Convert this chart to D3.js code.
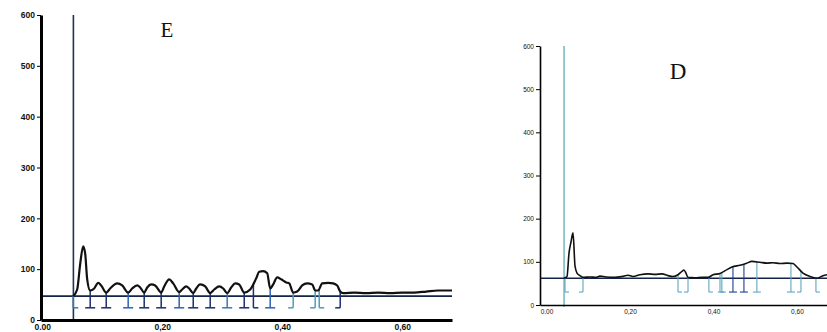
<!DOCTYPE html>
<html>
<head>
<meta charset="utf-8">
<script src="https://cdn.jsdelivr.net/npm/d3@7"></script>
<style>
  body { margin: 0; background: #fff; }
  svg { display: block; }
</style>
</head>
<body>
<svg id="chart" width="827" height="332"></svg>
<script>
// ---- shared axis values ----
const yTicks = [0, 100, 200, 300, 400, 500, 600];
const xTicks = [0, 0.2, 0.4, 0.6];
const xTickLabels = ['0.00', '0,20', '0,40', '0,60'];

// ---- panel E ----
const eTime = [0.0517, 0.0583, 0.0633, 0.0683, 0.0717, 0.075, 0.08, 0.0867, 0.0933, 0.0983,
  0.1067, 0.1133, 0.125, 0.1333, 0.1433, 0.15, 0.1583, 0.1633, 0.17, 0.175,
  0.1817, 0.1883, 0.1983, 0.2033, 0.2117, 0.2183, 0.2283, 0.2333, 0.24, 0.245,
  0.2517, 0.2567, 0.2633, 0.2717, 0.28, 0.2867, 0.295, 0.3017, 0.3083, 0.315,
  0.3217, 0.3283, 0.3367, 0.3467, 0.3567, 0.3617, 0.3683, 0.375, 0.38, 0.385,
  0.3917, 0.3983, 0.4067, 0.4117, 0.4183, 0.425, 0.4333, 0.4417, 0.45, 0.455,
  0.46, 0.4667, 0.4767, 0.485, 0.4917, 0.4967, 0.5017, 0.52, 0.54, 0.56,
  0.58, 0.6, 0.62, 0.64, 0.66, 0.683];
const eSignal = [47, 60, 110, 145, 130, 80, 58, 62, 73, 68,
  54, 62, 72, 68, 54, 62, 68, 64, 54, 64,
  70, 68, 54, 66, 80, 72, 55, 60, 66, 62,
  53, 62, 70, 66, 53, 60, 66, 62, 53, 64,
  72, 70, 54, 60, 82, 95, 96, 92, 62, 70,
  84, 80, 74, 72, 54, 56, 68, 72, 70, 58,
  58, 72, 73, 72, 68, 56, 53, 54, 53, 54,
  53, 54, 54, 56, 58, 58];
const eBaseline = 47;
const eVoid = 0.052;
const eMarks = [0.0517, 0.08, 0.1067, 0.1433, 0.17, 0.1983, 0.2283, 0.2517, 0.28, 0.3083,
  0.3367, 0.352, 0.38, 0.4183, 0.455, 0.4617, 0.4967];
const eMarkSide = [1, 0, 0, 0, 0, 0, 0, 0, 0, 0, 0, 1, 0, -1, -1, 1, -1];
const eFoot = 24;

// ---- panel D ----
const dTime = [0.0419, 0.0491, 0.0539, 0.0587, 0.0635, 0.0683, 0.0731, 0.0802, 0.0874, 0.104,
  0.1186, 0.128, 0.1425, 0.164, 0.1808, 0.1952, 0.2072, 0.224, 0.2431, 0.2599,
  0.2766, 0.291, 0.303, 0.315, 0.3246, 0.3293, 0.3341, 0.3389, 0.3557, 0.3725,
  0.3868, 0.3988, 0.4156, 0.4323, 0.4443, 0.4635, 0.4778, 0.4922, 0.5114, 0.5281,
  0.5425, 0.5593, 0.576, 0.5904, 0.6, 0.6144, 0.6311, 0.6479, 0.6623, 0.6719];
const dSignal = [62, 66, 120, 146, 167, 90, 74, 68, 64, 65,
  64, 67, 65, 64, 66, 69, 66, 70, 72, 71,
  72, 68, 66, 70, 78, 81, 74, 64, 63, 64,
  64, 70, 73, 82, 88, 92, 96, 101, 99, 97,
  98, 96, 97, 96, 88, 74, 66, 62, 68, 70];
const dBaseline = 62;
const dVoid = 0.042;
const dMarks = [0.0443, 0.0874, 0.315, 0.339, 0.389, 0.4156, 0.42, 0.4467, 0.473, 0.504,
  0.5856, 0.6096, 0.6455];
const dMarkSide = [1, -1, 1, -1, 1, 1, 0, 0, 0, 0, 0, -1, 1];
const dFoot = 30;

const svg = d3.select('#chart');

function drawPanel(p) {
  const x = d3.scaleLinear().domain(p.xDomain).range(p.xRange);
  const y = d3.scaleLinear().domain([0, 600]).range(p.yRange);
  const g = svg.append('g');
  const signalAt = d3.scaleLinear().domain(p.time).range(p.signal);

  // void marker line
  g.append('line')
    .attr('x1', x(p.voidT)).attr('x2', x(p.voidT))
    .attr('y1', y(600)).attr('y2', y(0) + 2)
    .attr('stroke', p.voidColor).attr('stroke-width', p.voidWidth);

  // baseline
  g.append('line')
    .attr('x1', p.xRange[0]).attr('x2', p.xRange[1])
    .attr('y1', y(p.baseline)).attr('y2', y(p.baseline))
    .attr('stroke', '#142447').attr('stroke-width', p.baseWidth);

  // integration marks
  p.marks.forEach((m, i) => {
    const c = p.markColor(i);
    const top = y(Math.max(signalAt(m), p.baseline));
    const bot = y(p.foot);
    const xm = x(m);
    g.append('line').attr('x1', xm).attr('x2', xm).attr('y1', top).attr('y2', bot)
      .attr('stroke', c).attr('stroke-width', p.markWidth);
    const s = p.sides[i];
    const x0 = s === 1 ? xm : xm - p.footLen;
    const x1 = s === -1 ? xm : xm + p.footLen;
    g.append('line').attr('x1', x0).attr('x2', x1).attr('y1', bot).attr('y2', bot)
      .attr('stroke', c).attr('stroke-width', p.markWidth);
  });

  // signal
  const line = d3.line()
    .x((d, i) => x(p.time[i]))
    .y(d => y(d))
    .curve(d3.curveMonotoneX);
  g.append('path').datum(p.signal)
    .attr('d', line)
    .attr('fill', 'none')
    .attr('stroke', '#111')
    .attr('stroke-width', p.lineWidth)
    .attr('stroke-linejoin', 'round');

  // y axis
  const yAxis = d3.axisLeft(y).tickValues(yTicks).tickSize(4).tickSizeOuter(0).tickPadding(2);
  const ya = g.append('g')
    .attr('transform', 'translate(' + p.xRange[0] + ',0)')
    .call(yAxis);
  ya.select('.domain').attr('stroke', '#000').attr('stroke-width', p.axisWidth);
  ya.selectAll('.tick line').attr('stroke', '#000').attr('stroke-width', 1);
  ya.selectAll('.tick text')
    .attr('font-family', 'Liberation Sans, Arial, sans-serif')
    .attr('font-size', p.tickFont).attr('font-weight', p.tickWeight).attr('fill', '#111');

  // x axis
  const xAxis = d3.axisBottom(x).tickValues(xTicks).tickSize(0).tickSizeOuter(0)
    .tickPadding(p.xPad).tickFormat((d, i) => xTickLabels[i]);
  const xa = g.append('g')
    .attr('transform', 'translate(0,' + p.yRange[0] + ')')
    .call(xAxis);
  xa.select('.domain').attr('stroke', '#000').attr('stroke-width', p.axisWidth);
  xa.selectAll('.tick text')
    .attr('font-family', 'Liberation Sans, Arial, sans-serif')
    .attr('font-size', p.tickFont).attr('font-weight', p.tickWeight).attr('fill', '#111');

  // panel letter
  g.append('text')
    .attr('x', p.titleX).attr('y', p.titleY)
    .attr('text-anchor', 'middle')
    .attr('font-family', 'Liberation Serif, Times New Roman, serif')
    .attr('font-size', p.titleSize)
    .attr('fill', '#111')
    .text(p.title);
}

const eColors = ['#3a78b8', '#1b2f6e', '#1b2f6e', '#2d62b4', '#1b2f6e', '#1b2f6e', '#2d62b4', '#1b2f6e', '#1b2f6e'];

drawPanel({
  time: eTime, signal: eSignal, baseline: eBaseline, voidT: eVoid,
  marks: eMarks, sides: eMarkSide, foot: eFoot,
  xDomain: [-0.002, 0.683], xRange: [41, 452], yRange: [320, 15],
  voidColor: '#1e3550', voidWidth: 1.6, baseWidth: 1.6,
  markColor: i => (i >= 13 && i <= 15) ? '#4a9cc0' : eColors[i % eColors.length],
  markWidth: 1.5, footLen: 5, lineWidth: 2.2, axisWidth: 3,
  tickFont: 8.5, tickWeight: 'bold', xPad: 4,
  title: 'E', titleX: 167, titleY: 37, titleSize: 21
});

drawPanel({
  time: dTime, signal: dSignal, baseline: dBaseline, voidT: dVoid,
  marks: dMarks, sides: dMarkSide, foot: dFoot,
  xDomain: [-0.0156, 0.672], xRange: [540, 827], yRange: [305, 46],
  voidColor: '#4fa3b5', voidWidth: 1.2, baseWidth: 1.3,
  markColor: i => (i === 7 || i === 8) ? '#1f3c92' : '#5fa6c0',
  markWidth: 1.1, footLen: 4, lineWidth: 1.6, axisWidth: 1.6,
  tickFont: 6.5, tickWeight: 'normal', xPad: 4,
  title: 'D', titleX: 678, titleY: 79, titleSize: 23
});
</script>
</body>
</html>
